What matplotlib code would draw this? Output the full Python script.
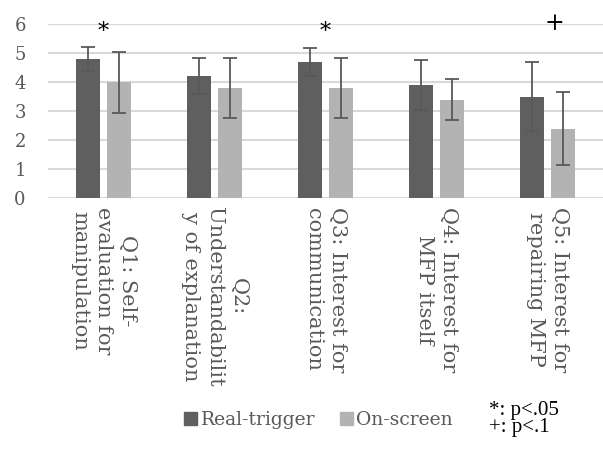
import matplotlib
matplotlib.use('Agg')
import matplotlib.pyplot as plt
import numpy as np
from matplotlib.patches import Patch

# data
questions = [
    "Q1: Self-\nevaluation for\nmanipulation",
    "Q2:\nUnderstandabilit\ny of explanation",
    "Q3: Interest for\ncommunication",
    "Q4: Interest for\nMFP itself",
    "Q5: Interest for\nrepairing MFP",
]
real_trigger = [4.8, 4.2, 4.7, 3.9, 3.5]
real_trigger_err = [0.42, 0.62, 0.49, 0.87, 1.18]
on_screen = [4.0, 3.8, 3.8, 3.4, 2.4]
on_screen_err = [1.05, 1.03, 1.03, 0.70, 1.25]
marks = ["*", "", "*", "", "+"]

GRAY_TEXT = '#595959'
DARK = '#5f5f5f'
LIGHT = '#b3b3b3'

fig = plt.figure(figsize=(6.03, 4.51), dpi=100)
ax = fig.add_axes([0.0796, 0.5603, 0.9204, 0.3865])

x = np.arange(len(questions))
w = 0.217
off = 0.138
err_kw = dict(ecolor='#595959', elinewidth=1.3, capsize=4.7, capthick=1.3)
ax.bar(x - off, real_trigger, w, yerr=real_trigger_err, color=DARK,
       error_kw=err_kw, zorder=3)
ax.bar(x + off, on_screen, w, yerr=on_screen_err, color=LIGHT,
       error_kw=err_kw, zorder=3)

# significance marks above the groups
for i, m in enumerate(marks):
    if m == "*":
        ax.text(i, 5.72, m, ha='center', va='center', fontsize=16,
                family='DejaVu Serif', color='black', zorder=4)
    elif m == "+":
        ax.text(i + 0.06, 6.0, m, ha='center', va='center', fontsize=17,
                family='DejaVu Serif', color='black', zorder=4)

ax.set_xlim(-0.5, 4.5)
ax.set_ylim(0, 6)
ax.set_yticks(range(7))
ax.yaxis.grid(True, color='#d9d9d9', linewidth=1.5, zorder=0)
for s in ax.spines.values():
    s.set_visible(False)
ax.tick_params(axis='both', length=0)
ax.tick_params(axis='y', pad=16, labelsize=13, labelcolor=GRAY_TEXT)
for lbl in ax.get_yticklabels():
    lbl.set_family('DejaVu Serif')

ax.set_xticks(x)
ax.set_xticklabels(questions, rotation=-90, ha='center', va='top',
                   multialignment='center', family='DejaVu Serif',
                   fontsize=15, color=GRAY_TEXT, linespacing=1.35)
ax.tick_params(axis='x', pad=6)

handles = [Patch(color=DARK, label='Real-trigger'),
           Patch(color=LIGHT, label='On-screen')]
leg = fig.legend(handles=handles, loc='center', bbox_to_anchor=(0.528, 0.069),
                 ncol=2, frameon=False, handlelength=0.7, handleheight=0.7,
                 handletextpad=0.2, columnspacing=1.3,
                 prop={'family': 'DejaVu Serif', 'size': 13.5})
for t in leg.get_texts():
    t.set_color(GRAY_TEXT)

fig.text(0.811, 0.071, "*: p<.05\n+: p<.1", ha='left', va='center',
         family='Liberation Serif', fontsize=15, color='black', linespacing=0.85)

fig.savefig('out.png', dpi=100)
plt.close(fig)
